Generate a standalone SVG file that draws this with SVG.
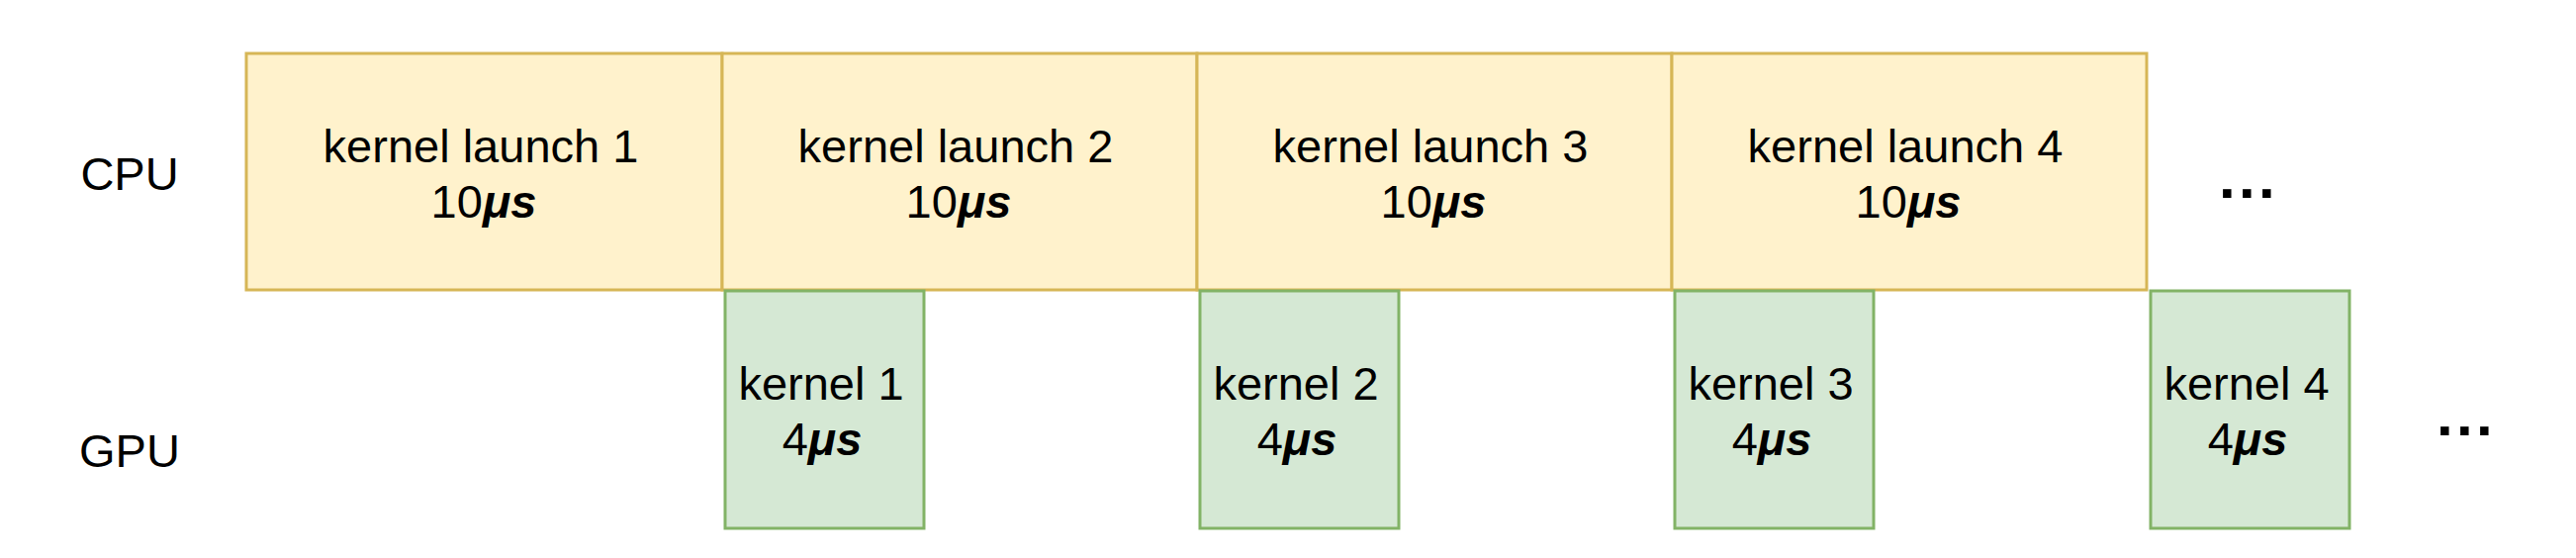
<svg xmlns="http://www.w3.org/2000/svg" width="2604" height="564" viewBox="0 0 2604 564">
<style>
.cpu{fill:#fff2cc;stroke:#d6b656;stroke-width:3}
.gpu{fill:#d5e8d4;stroke:#82b366;stroke-width:3}
text{font-family:"Liberation Sans",Arial,Helvetica,sans-serif;fill:#000;font-size:47px}
.c{text-anchor:middle}
.m{font-weight:bold;font-style:italic}
.dots{font-weight:bold;font-size:60px;letter-spacing:3.3px}
</style>
<rect width="2604" height="564" fill="#ffffff"/>
<g id="label-cpu"><text x="131" y="192" class="c">CPU</text></g>
<g id="label-gpu"><text x="131" y="472" class="c">GPU</text></g>
<g id="launch1"><rect class="cpu" x="249" y="54" width="481" height="239"/><text x="486" y="164" class="c">kernel launch 1</text><text x="489" y="220" class="c">10<tspan class="m">μs</tspan></text></g>
<g id="launch2"><rect class="cpu" x="730" y="54" width="480" height="239"/><text x="966" y="164" class="c">kernel launch 2</text><text x="969" y="220" class="c">10<tspan class="m">μs</tspan></text></g>
<g id="launch3"><rect class="cpu" x="1210" y="54" width="480" height="239"/><text x="1446" y="164" class="c">kernel launch 3</text><text x="1449" y="220" class="c">10<tspan class="m">μs</tspan></text></g>
<g id="launch4"><rect class="cpu" x="1690" y="54" width="480" height="239"/><text x="1926" y="164" class="c">kernel launch 4</text><text x="1929" y="220" class="c">10<tspan class="m">μs</tspan></text></g>
<g id="kernel1"><rect class="gpu" x="733" y="294" width="201" height="240"/><text x="830" y="404" class="c">kernel 1</text><text x="831" y="460" class="c">4<tspan class="m">μs</tspan></text></g>
<g id="kernel2"><rect class="gpu" x="1213" y="294" width="201" height="240"/><text x="1310" y="404" class="c">kernel 2</text><text x="1311" y="460" class="c">4<tspan class="m">μs</tspan></text></g>
<g id="kernel3"><rect class="gpu" x="1693" y="294" width="201" height="240"/><text x="1790" y="404" class="c">kernel 3</text><text x="1791" y="460" class="c">4<tspan class="m">μs</tspan></text></g>
<g id="kernel4"><rect class="gpu" x="2174" y="294" width="201" height="240"/><text x="2271" y="404" class="c">kernel 4</text><text x="2272" y="460" class="c">4<tspan class="m">μs</tspan></text></g>
<g id="more-cpu"><text x="2243" y="200" class="dots">...</text></g>
<g id="more-gpu"><text x="2463" y="440" class="dots">...</text></g>
<g id="connectors"/>
</svg>
